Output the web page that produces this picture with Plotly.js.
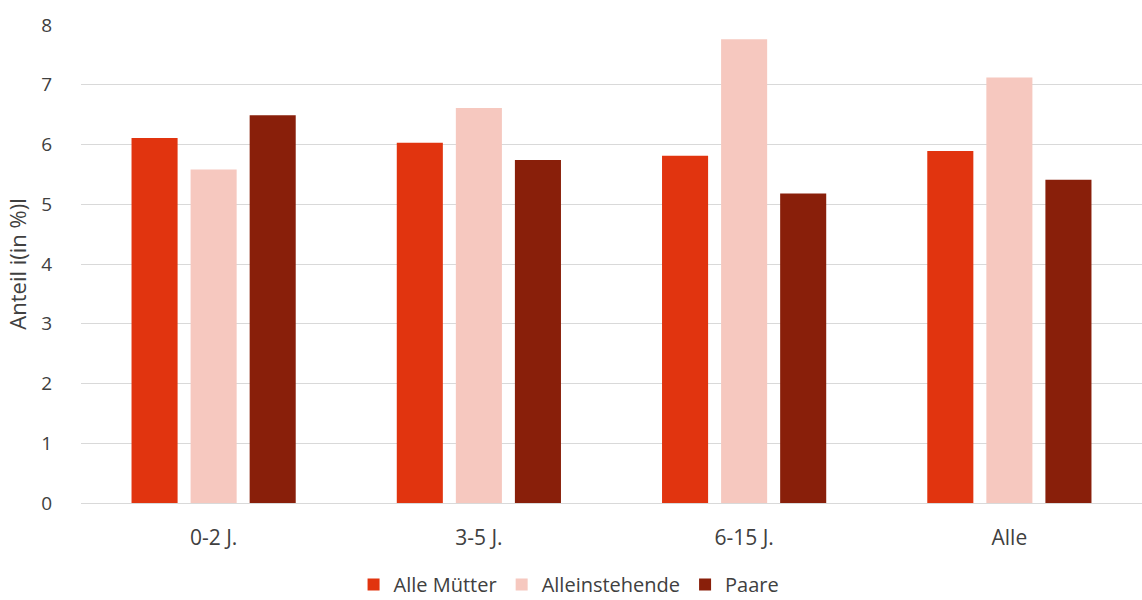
<!DOCTYPE html>
<html>
<head>
<meta charset="utf-8">
<script src="https://cdn.plot.ly/plotly-3.0.1.min.js"></script>
<style>html,body{margin:0;padding:0;background:#fff;}#chart{width:1142px;height:600px;}</style>
</head>
<body>
<div id="chart"></div>
<script>
const categories = ["0-2 J.", "3-5 J.", "6-15 J.", "Alle"];
const alleMuetter = [6.11, 6.03, 5.81, 5.89];
const alleinstehende = [5.58, 6.61, 7.76, 7.12];
const paare = [6.49, 5.74, 5.18, 5.41];
const seriesNames = ["Alle Mütter", "Alleinstehende", "Paare"];
const colors = ["#E1340F", "#F6C8BF", "#891F0A"];
const yTicks = [0, 1, 2, 3, 4, 5, 6, 7, 8];

const font = "Open Sans, Noto Sans, sans-serif";
const data = [alleMuetter, alleinstehende, paare].map((vals, i) => ({
  type: "bar",
  x: categories,
  y: vals,
  name: seriesNames[i],
  marker: {color: colors[i]},
  hoverinfo: "x+y+name"
}));

const layout = {
  width: 1142,
  height: 600,
  margin: {l: 81, r: 0, t: 25, b: 97},
  paper_bgcolor: "#fff",
  plot_bgcolor: "#fff",
  barmode: "group",
  bargap: 0.332,
  bargroupgap: 0.22,
  font: {family: font, color: "#404040", size: 19},
  xaxis: {
    showgrid: false,
    showline: false,
    ticks: "",
    automargin: false,
    tickfont: {size: 21, color: "#404040", family: font},
    ticklabelstandoff: 20
  },
  yaxis: {
    range: [0, 8],
    tickvals: yTicks,
    ticktext: yTicks.map(String),
    showgrid: true,
    gridcolor: "#D9D9D9",
    gridwidth: 1,
    zeroline: true,
    zerolinecolor: "#D9D9D9",
    showline: false,
    ticks: "",
    automargin: false,
    ticklabelstandoff: 28,
    tickfont: {size: 19, color: "#404040", family: font},
    title: {text: "Anteil i(in %)l", font: {size: 22, color: "#404040", family: font}, standoff: 8}
  },
  legend: {
    orientation: "h",
    x: 0.46,
    xanchor: "center",
    xref: "paper",
    yref: "container",
    y: 0.026,
    yanchor: "middle",
    font: {size: 20, color: "#404040", family: font},
    traceorder: "normal"
  },
  showlegend: true
};

Plotly.newPlot("chart", data, layout, {displayModeBar: false, staticPlot: true});
</script>
</body>
</html>
